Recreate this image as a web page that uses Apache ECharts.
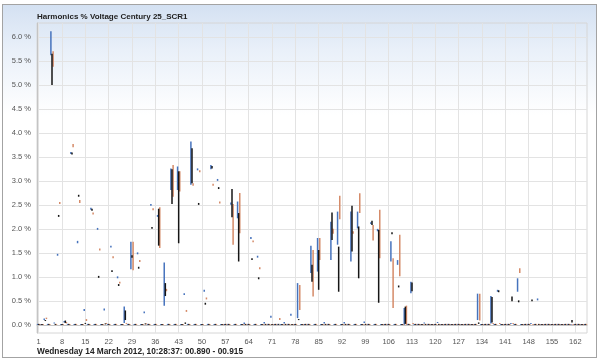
<!DOCTYPE html>
<html><head><meta charset="utf-8">
<script src="https://cdn.jsdelivr.net/npm/echarts@6/dist/echarts.min.js"></script>
<style>
html,body{margin:0;padding:0;background:#fff;}
#frame{position:absolute;left:2px;top:4px;width:595px;height:354px;border:1px solid #a3a3a3;box-sizing:border-box;background:linear-gradient(to bottom,#d4e1f2 0px,#e9f0f9 45px,#ffffff 110px);}
#chart{position:absolute;left:0;top:0;width:600px;height:364px;}
</style></head><body>
<div id="frame"></div><div id="chart"></div>
<script>
const titleText = 'Harmonics % Voltage Century 25_SCR1';
const footerText = 'Wednesday 14 March 2012, 10:28:37: 00.890 - 00.915';
const harmonicCount = 165;
const xTicks = [1,8,15,22,29,36,43,50,57,64,71,78,85,92,99,106,113,120,127,134,141,148,155,162];
const yTicks = [0,0.5,1,1.5,2,2.5,3,3.5,4,4.5,5,5.5,6];

// Phase values per harmonic 1..165 (min / max of each range, %)
const blueLow = [
 0,0,0.1,0,5.62,0.03,1.44,0,0.05,0,3.56,0,1.7,0,0.29,
 0,2.4,0,1.98,0,0.3,0,1.61,0,0.97,0,0.04,0,1.16,0,
 1.47,0,0.24,0,2.48,0,2.25,0,0.4,0,2.81,0,2.81,0,0.62,
 0,2.92,0,3.22,0,0.69,0,3.24,0,3.0,0,0,0,2.5,0,
 2.22,0,0.02,0,1.79,0,1.4,0,0.03,0,0.15,0,0,0,0.03,
 0,0.19,0,0.14,0,0,0,1.08,0,1.11,0,0.03,0,1.35,0,
 1.67,0,0.03,0,1.32,0,2.01,0,0.04,0,2.1,0,1.95,0,0,
 0,1.32,0,1.25,0,0,0,0.66,0,0,0,0.03,0,0,0,
 0.04,0,0,0,0,0,0,0,0,0,0,0,0.1,0,0,
 0,0.03,0,0.69,0,0,0,0.02,0,0.69,0,0,0,0.02,0,
 0.51,0,0,0,0,0,0,0,0,0,0,0,0,0,0
];
const blueHigh = [
 0.02,0.02,0.13,0.02,6.12,0.05,1.48,0.02,0.08,0.02,3.6,0.02,1.75,0.02,0.33,
 0.02,2.44,0.02,2.02,0.02,0.34,0.02,1.65,0.02,1.01,0.02,0.38,0.02,1.73,0.02,
 1.51,0.02,0.28,0.02,2.52,0.02,2.29,0.02,1.3,0.02,3.26,0.02,3.3,0.02,0.66,
 0.02,3.82,0.02,3.26,0.02,0.73,0.02,3.33,0.02,3.04,0.02,0.02,0.02,2.55,0.02,
 2.57,0.02,0.05,0.02,1.83,0.02,1.44,0.02,0.06,0.02,0.19,0.02,0.02,0.02,0.06,
 0.02,0.23,0.02,0.87,0.02,0.02,0.02,1.65,0.02,1.81,0.02,0.06,0.02,2.15,0.02,
 2.36,0.02,0.06,0.02,2.36,0.02,2.36,0.02,0.07,0.02,2.14,0.02,2.0,0.02,0.02,
 0.02,1.74,0.02,1.35,0.02,0.35,0.02,0.9,0.02,0.02,0.02,0.05,0.02,0.02,0.02,
 0.06,0.02,0.02,0.02,0.02,0.02,0.02,0.02,0.02,0.02,0.02,0.02,0.65,0.02,0.02,
 0.02,0.6,0.02,0.73,0.02,0.02,0.02,0.04,0.02,0.97,0.02,0.02,0.02,0.04,0.02,
 0.55,0.02,0.02,0.02,0.02,0.02,0.02,0.02,0.02,0.02,0.02,0.02,0.02,0.02,0.02
];
const orangeLow = [
 0,0,0.12,0,5.38,0,2.52,0,0.03,0,3.7,0,2.54,0,0.08,
 0,2.3,0,1.55,0,0.02,0,1.39,0,0.86,0,0.02,0,1.14,0,
 1.31,0,0.01,0,2.39,0,1.6,0,0.7,0,2.67,0,2.78,0,0.27,
 0,2.9,0,3.18,0,0.53,0,2.9,0,2.53,0,0,0,1.67,0,
 1.91,0,0,0,1.72,0,1.16,0,0,0,0,0,0.1,0,0,
 0,0,0,0.31,0,0,0,0.59,0,1.35,0,0,0,1.9,0,
 2.2,0,0,0,1.9,0,2.33,0,0,0,1.76,0,1.39,0,0,
 0,0.35,0,1.01,0,0,0,0.02,0,0,0,0,0,0,0,
 0,0,0,0,0,0,0,0,0,0,0,0,0.09,0,0,
 0,0.02,0,0.02,0,0,0,0.02,0,1.08,0,0,0,0,0,
 0,0,0,0,0,0,0,0,0,0,0,0,0,0,0
];
const orangeHigh = [
 0.02,0.02,0.15,0.02,5.7,0.02,2.56,0.02,0.06,0.02,3.77,0.02,2.6,0.02,0.12,
 0.02,2.34,0.02,1.59,0.02,0.04,0.02,1.43,0.02,0.9,0.02,0.04,0.02,1.73,0.02,
 1.35,0.02,0.03,0.02,2.43,0.02,2.45,0.02,0.75,0.02,3.33,0.02,3.2,0.02,0.31,
 0.02,2.95,0.02,3.22,0.02,0.57,0.02,2.94,0.02,2.57,0.02,0.02,0.02,2.52,0.02,
 2.75,0.02,0.02,0.02,1.76,0.02,1.2,0.02,0.02,0.02,0.02,0.02,0.14,0.02,0.02,
 0.02,0.02,0.02,0.83,0.02,0.02,0.02,1.56,0.02,1.81,0.02,0.02,0.02,2.0,0.02,
 2.69,0.02,0.02,0.02,1.95,0.02,2.74,0.02,0.02,0.02,2.08,0.02,2.4,0.02,0.02,
 0.02,1.39,0.02,1.88,0.02,0.4,0.02,0.04,0.02,0.02,0.02,0.02,0.02,0.02,0.02,
 0.02,0.02,0.02,0.02,0.02,0.02,0.02,0.02,0.02,0.02,0.02,0.02,0.65,0.02,0.02,
 0.02,0.04,0.02,0.04,0.02,0.02,0.02,0.04,0.02,1.18,0.02,0.02,0.02,0.02,0.02,
 0.02,0.02,0.02,0.02,0.02,0.02,0.02,0.02,0.02,0.02,0.02,0.02,0.02,0.02,0.02
];
const blackLow = [
 0,0,0.08,0,5.0,0,2.25,0,0.04,0,3.55,0,2.67,0,0.02,
 0,2.38,0,0.98,0,0.01,0,1.1,0,0.81,0,0.1,0,1.4,0,
 1.17,0,0.01,0,2.0,0,1.65,0,0.6,0,2.52,0,1.7,0,0.02,
 0,2.95,0,2.5,0,0.42,0,3.26,0,2.83,0,0,0,2.24,0,
 1.32,0,0,0,1.35,0,0.95,0,0,0,0,0,0,0,0,
 0,0,0,0.1,0,0,0,0.9,0,0.73,0,0,0,1.77,0,
 0.69,0,0,0,1.53,0,0.97,0,0,0,2.08,0,0.46,0,0,
 0,1.89,0,0.78,0,0.02,0,0.7,0,0,0,0,0,0,0,
 0,0,0,0,0,0,0,0,0,0,0,0,0.02,0,0,
 0,0.05,0,0.68,0,0,0,0.49,0,0.47,0,0,0,0.49,0,
 0,0,0,0,0,0,0,0,0,0,0.05,0,0,0,0
];
const blackHigh = [
 0.02,0.02,0.1,0.02,5.65,0.02,2.29,0.02,0.09,0.02,3.59,0.02,2.71,0.02,0.04,
 0.02,2.42,0.02,1.02,0.02,0.03,0.02,1.14,0.02,0.85,0.02,0.3,0.02,1.45,0.02,
 1.21,0.02,0.03,0.02,2.04,0.02,2.42,0.02,0.87,0.02,3.24,0.02,3.2,0.02,0.05,
 0.02,3.68,0.02,2.54,0.02,0.46,0.02,3.31,0.02,2.87,0.02,0.02,0.02,2.83,0.02,
 2.33,0.02,0.02,0.02,1.39,0.02,0.99,0.02,0.02,0.02,0.02,0.02,0.02,0.02,0.02,
 0.02,0.02,0.02,0.12,0.02,0.02,0.02,1.25,0.02,1.56,0.02,0.02,0.02,2.34,0.02,
 1.63,0.02,0.02,0.02,2.48,0.02,2.05,0.02,0.02,0.02,2.17,0.02,1.98,0.02,0.02,
 0.02,1.93,0.02,0.82,0.02,0.38,0.02,0.88,0.02,0.02,0.02,0.02,0.02,0.02,0.02,
 0.02,0.02,0.02,0.02,0.02,0.02,0.02,0.02,0.02,0.02,0.02,0.02,0.05,0.02,0.02,
 0.02,0.58,0.02,0.72,0.02,0.02,0.02,0.59,0.02,0.51,0.02,0.02,0.02,0.53,0.02,
 0.02,0.02,0.02,0.02,0.02,0.02,0.02,0.02,0.02,0.02,0.1,0.02,0.02,0.02,0.02
];

const harmonics = Array.from({length: harmonicCount}, (_, i) => i + 1);
function build(lows, highs) { return harmonics.map((h, i) => [h, lows[i], highs[i]]); }

function makeRender(offset) {
  return function (params, api) {
    const h = api.value(0), lo = api.value(1), hi = api.value(2);
    const pTop = api.coord([h, hi]);
    const pBot = api.coord([h, lo]);
    const height = Math.max(pBot[1] - pTop[1], 1);
    return { type: 'rect', shape: { x: pTop[0] + offset - 0.75, y: pTop[1], width: 1.5, height: height },
             style: { fill: api.visual('color') } };
  };
}

const labelFont = { fontFamily: 'Liberation Sans', fontSize: 7.5, color: '#555' };
const chart = echarts.init(document.getElementById('chart'), null, { renderer: 'canvas' });
chart.setOption({
  animation: false,
  backgroundColor: 'transparent',
  title: [
    { text: titleText, left: 37, top: 13, padding: 0, textStyle: { fontFamily: 'Liberation Sans', fontWeight: 'bold', fontSize: 8, color: '#222' } },
    { text: footerText, left: 37, top: 348, padding: 0, textStyle: { fontFamily: 'Liberation Sans', fontWeight: 'bold', fontSize: 8.3, color: '#222' } }
  ],
  grid: { left: 37, right: 13, top: 23, bottom: 31, show: true, borderColor: '#d6d6d6', borderWidth: 1 },
  xAxis: {
    type: 'value', min: 0.5, max: 165.5,
    axisLine: { show: true, lineStyle: { color: '#c4c4c4' } },
    axisTick: { show: false, customValues: xTicks },
    axisLabel: Object.assign({ customValues: xTicks, margin: 5 }, labelFont),
    splitLine: { show: true, lineStyle: { color: '#e3e3e3', width: 1 } }
  },
  yAxis: {
    type: 'value', min: -0.17, max: 6.29,
    axisLine: { show: true, lineStyle: { color: '#c4c4c4' } },
    axisTick: { show: false, customValues: yTicks },
    axisLabel: Object.assign({ customValues: yTicks, margin: 6, formatter: v => v.toFixed(1) + ' %' }, labelFont),
    splitLine: { show: true, lineStyle: { color: '#e3e3e3', width: 1 } }
  },
  series: [
    { type: 'custom', name: 'Blue', color: '#4673bd', renderItem: makeRender(-1.1), encode: { x: 0, y: [1, 2] }, data: build(blueLow, blueHigh) },
    { type: 'custom', name: 'Orange', color: '#d58a67', renderItem: makeRender(1.1), encode: { x: 0, y: [1, 2] }, data: build(orangeLow, orangeHigh) },
    { type: 'custom', name: 'Black', color: '#161616', renderItem: makeRender(0), encode: { x: 0, y: [1, 2] }, data: build(blackLow, blackHigh) }
  ]
});
</script></body></html>
